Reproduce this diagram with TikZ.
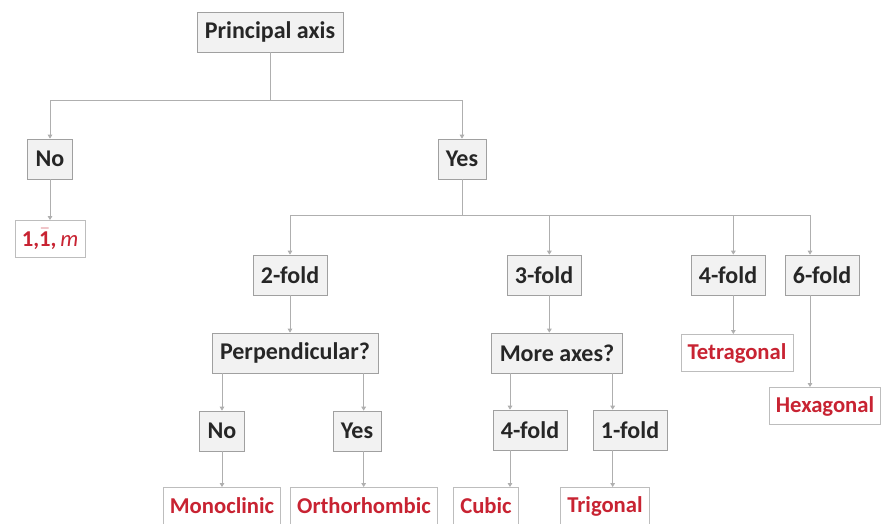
\documentclass[tikz,border=0pt]{standalone}
\usepackage{fontspec}
\setmainfont{Carlito}
\usetikzlibrary{arrows.meta,calc}
\definecolor{boxfill}{RGB}{242,242,242}
\definecolor{boxline}{RGB}{160,160,160}
\definecolor{redtxt}{RGB}{200,35,50}
\definecolor{conn}{RGB}{175,175,175}
\tikzset{
  gbox/.style={draw=boxline, fill=boxfill, line width=0.5pt, minimum height=30pt, inner xsep=6pt,
    font=\fontsize{18}{21}\selectfont\bfseries, text=black!85},
  rbox/.style={draw=boxline!70, fill=white, line width=0.5pt, minimum height=28pt, inner xsep=5pt,
    font=\fontsize{17}{20}\selectfont\bfseries, text=redtxt},
  ln/.style={draw=conn, line width=0.6pt},
  arr/.style={ln, -{Triangle[width=3.5pt,length=3pt]}},
}
\begin{document}
\begin{tikzpicture}[x=0.75pt,y=-0.75pt]
\useasboundingbox (0,0) rectangle (881,524);
% nodes
\node[gbox] (pa) at (270,32) {Principal axis};
\node[gbox] (no1) at (50,159) {No};
\node[gbox] (yes1) at (462,159) {Yes};
\node[rbox] (mono0) at (50,239) {1,$\bar{\mbox{1}}$,\,{\mdseries\itshape m}};
\node[gbox] (f2) at (290,275) {2-fold};
\node[gbox] (f3) at (544,275) {3-fold};
\node[gbox] (f4) at (728,275) {4-fold};
\node[gbox] (f6) at (822,275) {6-fold};
\node[gbox] (perp) at (295,353) {Perpendicular?};
\node[gbox] (more) at (557,353) {More axes?};
\node[rbox] (tet) at (737,353) {Tetragonal};
\node[rbox] (hex) at (825,406) {Hexagonal};
\node[gbox] (no2) at (222,431) {No};
\node[gbox] (yes2) at (357,431) {Yes};
\node[gbox] (f4b) at (530,430) {4-fold};
\node[gbox] (f1b) at (630,430) {1-fold};
\node[rbox] (monoc) at (222,506) {Monoclinic};
\node[rbox] (ortho) at (364,506) {Orthorhombic};
\node[rbox] (cubic) at (486,506) {Cubic};
\node[rbox] (trig) at (605,506) {Trigonal};
% junctions
\coordinate (j1) at (270,100);
\coordinate (j2) at (462,215);
% connectors
\draw[ln] (pa.south) -- (j1);
\draw[arr] (j1) -| (no1.north);
\draw[arr] (j1) -| (yes1.north);
\draw[arr] (no1.south) -- (mono0.north);
\draw[ln] (yes1.south) -- (j2);
\draw[arr] (j2) -| (f2.north);
\draw[arr] (j2) -| ([xshift=4]f3.north);
\draw[arr] (j2) -| ([xshift=4]f4.north);
\draw[arr] (j2) -| ([xshift=-9]f6.north);
\draw[arr] (f2.south) -- (f2.south |- perp.north);
\draw[arr] ([xshift=4]f3.south) -- ([xshift=4]f3.south |- more.north);
\draw[arr] ([xshift=4]f4.south) -- ([xshift=4]f4.south |- tet.north);
\draw[arr] ([xshift=-9]f6.south) -- ([xshift=-9]f6.south |- hex.north);
\draw[arr] (perp.south -| no2.north) -- (no2.north);
\draw[arr] ([xshift=5]perp.south -| yes2.north) -- ([xshift=5]yes2.north);
\draw[arr] ([xshift=-15]more.south -| f4b.north) -- ([xshift=-15]f4b.north);
\draw[arr] ([xshift=-13]more.south -| f1b.north) -- ([xshift=-13]f1b.north);
\draw[arr] (no2.south) -- (no2.south |- monoc.north);
\draw[arr] ([xshift=5]yes2.south) -- ([xshift=5]yes2.south |- ortho.north);
\draw[arr] ([xshift=-15]f4b.south) -- ([xshift=-15]f4b.south |- cubic.north);
\draw[arr] ([xshift=-13]f1b.south) -- ([xshift=-13]f1b.south |- trig.north);
\end{tikzpicture}
\end{document}
